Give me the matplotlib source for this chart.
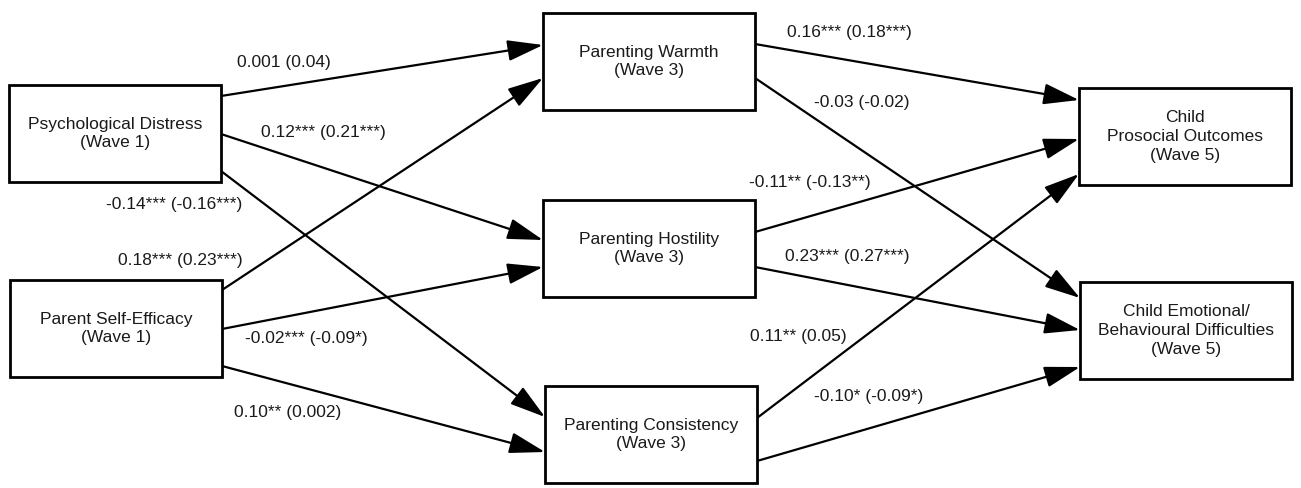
import matplotlib.pyplot as plt
from matplotlib.patches import Rectangle, FancyArrowPatch

plt.rcParams['font.family'] = ['Liberation Sans', 'DejaVu Sans']

# nodes of the path model
nodes = ["pd", "pse", "warm", "host", "cons", "pro", "emo"]
node_labels = [
    "Psychological Distress\n(Wave 1)",
    "Parent Self-Efficacy\n(Wave 1)",
    "Parenting Warmth\n(Wave 3)",
    "Parenting Hostility\n(Wave 3)",
    "Parenting Consistency\n(Wave 3)",
    "Child\nProsocial Outcomes\n(Wave 5)",
    "Child Emotional/\nBehavioural Difficulties\n(Wave 5)",
]

# paths: source, target, coefficient label
edge_src = ["pd", "pd", "pd", "pse", "pse", "pse",
            "warm", "warm", "host", "host", "cons", "cons"]
edge_dst = ["warm", "host", "cons", "warm", "host", "cons",
            "pro", "emo", "pro", "emo", "pro", "emo"]
edge_labels = [
    "0.001 (0.04)", "0.12*** (0.21***)", "-0.14*** (-0.16***)",
    "0.18*** (0.23***)", "-0.02*** (-0.09*)", "0.10** (0.002)",
    "0.16*** (0.18***)", "-0.03 (-0.02)", "-0.11** (-0.13**)",
    "0.23*** (0.27***)", "0.11** (0.05)", "-0.10* (-0.09*)",
]

# layout (pixels, y down)
box_xy = {"pd": (9, 85), "pse": (10, 280), "warm": (543, 13), "host": (543, 200),
          "cons": (545, 386), "pro": (1079, 88), "emo": (1080, 282)}
box_w, box_h = 212, 97
# attach heights: (start y on source right edge, end y on target left edge)
attach = [(96, 45), (134, 240), (171, 417), (290, 78), (329, 267), (366, 452),
          (44, 100), (78, 298), (232, 139), (267, 330), (418, 174), (461, 367)]
label_pos = [(284, 63), (323, 132), (174, 204), (180, 260), (306, 339), (288, 413),
             (849, 33), (862, 102), (810, 183), (847, 257), (798, 336), (869, 397)]

fig = plt.figure(figsize=(13.01, 4.88), dpi=100)
ax = fig.add_axes([0, 0, 1, 1])
ax.set_xlim(0, 1301)
ax.set_ylim(488, 0)
ax.axis('off')

fs = 12.5
for n, lab in zip(nodes, node_labels):
    x, y = box_xy[n]
    ax.add_patch(Rectangle((x, y), box_w, box_h, facecolor='white',
                           edgecolor='black', linewidth=2.0, zorder=3))
    ax.text(x + box_w / 2, y + box_h / 2, lab, ha='center', va='center',
            fontsize=fs, linespacing=1.3, color='#1a1a1a', zorder=4)

for s, d, (ys, yd), lab, (lx, ly) in zip(edge_src, edge_dst, attach, edge_labels, label_pos):
    x0 = box_xy[s][0] + box_w
    x1 = box_xy[d][0]
    arr = FancyArrowPatch((x0, ys), (x1, yd),
                          arrowstyle="-|>,head_length=2.2,head_width=0.65",
                          mutation_scale=10, shrinkA=0, shrinkB=0,
                          color='black', linewidth=1.6, zorder=2)
    ax.add_patch(arr)
    ax.text(lx, ly, lab, ha='center', va='center', fontsize=fs, color='#1a1a1a')

fig.savefig('out.png', dpi=100)
